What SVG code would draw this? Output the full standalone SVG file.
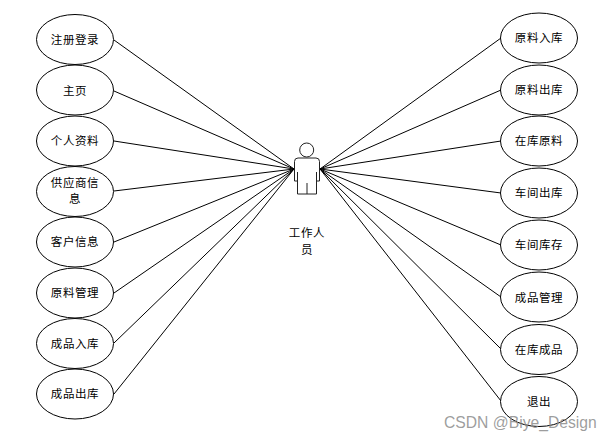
<svg xmlns="http://www.w3.org/2000/svg" width="612" height="442" viewBox="0 0 612 442">
<style>
.n{fill:#fff;stroke:#000;stroke-width:1}
.t{font-family:"Noto Sans CJK SC","Liberation Sans",sans-serif;font-size:11.5px;fill:#000;text-anchor:middle;letter-spacing:.6px}
.c line{stroke:#000;stroke-width:1}
.a{fill:#fff;stroke:#222;stroke-width:1}
</style>
<rect width="612" height="442" fill="#fff"/>
<g id="connectors" class="c">
<line x1="114" y1="40" x2="294" y2="169"/>
<line x1="114" y1="91" x2="294" y2="169"/>
<line x1="114" y1="141" x2="294" y2="169"/>
<line x1="114" y1="191" x2="294" y2="169"/>
<line x1="114" y1="242" x2="294" y2="169"/>
<line x1="114" y1="293" x2="294" y2="169"/>
<line x1="114" y1="343" x2="294" y2="169"/>
<line x1="114" y1="394" x2="294" y2="169"/>
<line x1="501" y1="38" x2="320" y2="169"/>
<line x1="501" y1="90" x2="320" y2="169"/>
<line x1="501" y1="141" x2="320" y2="169"/>
<line x1="501" y1="193" x2="320" y2="169"/>
<line x1="501" y1="245" x2="320" y2="169"/>
<line x1="501" y1="297" x2="320" y2="169"/>
<line x1="501" y1="349" x2="320" y2="169"/>
<line x1="501" y1="401" x2="320" y2="169"/>
</g>
<g id="actor">
<circle class="a" cx="306.700" cy="150" r="7"/>
<path class="a" d="M298 158H316Q319.500 158 319.500 161.500V181H316.500V194H297.500V181H294.500V161.500Q294.500 158 298 158Z"/>
<path d="M297.500 172V181M316.500 172V181M307 183V194" fill="none" stroke="#222" stroke-width="1"/>
<text class="t" x="307" y="237">工作人</text>
<text class="t" x="307" y="254">员</text>
</g>
<g id="n1"><ellipse class="n" cx="75" cy="39.500" rx="38.500" ry="25"/><text class="t" x="75" y="44">注册登录</text></g>
<g id="n2"><ellipse class="n" cx="75" cy="90" rx="38.500" ry="25"/><text class="t" x="75" y="95">主页</text></g>
<g id="n3"><ellipse class="n" cx="75" cy="141" rx="38.500" ry="25"/><text class="t" x="75" y="145">个人资料</text></g>
<g id="n4"><ellipse class="n" cx="75" cy="191.500" rx="38.500" ry="25"/><text class="t" x="75" y="187">供应商信</text><text class="t" x="75" y="203">息</text></g>
<g id="n5"><ellipse class="n" cx="75" cy="242" rx="38.500" ry="25"/><text class="t" x="75" y="246">客户信息</text></g>
<g id="n6"><ellipse class="n" cx="75" cy="293" rx="38.500" ry="25"/><text class="t" x="75" y="297">原料管理</text></g>
<g id="n7"><ellipse class="n" cx="75" cy="343.500" rx="38.500" ry="25"/><text class="t" x="75" y="348">成品入库</text></g>
<g id="n8"><ellipse class="n" cx="75" cy="394" rx="38.500" ry="25"/><text class="t" x="75" y="398">成品出库</text></g>
<g id="n9"><ellipse class="n" cx="539" cy="38" rx="38.500" ry="25"/><text class="t" x="539" y="42">原料入库</text></g>
<g id="n10"><ellipse class="n" cx="539" cy="90" rx="38.500" ry="25"/><text class="t" x="539" y="94">原料出库</text></g>
<g id="n11"><ellipse class="n" cx="539" cy="141" rx="38.500" ry="25"/><text class="t" x="539" y="145">在库原料</text></g>
<g id="n12"><ellipse class="n" cx="539" cy="193" rx="38.500" ry="25"/><text class="t" x="539" y="197">车间出库</text></g>
<g id="n13"><ellipse class="n" cx="539" cy="245" rx="38.500" ry="25"/><text class="t" x="539" y="249">车间库存</text></g>
<g id="n14"><ellipse class="n" cx="539" cy="297" rx="38.500" ry="25"/><text class="t" x="539" y="302">成品管理</text></g>
<g id="n15"><ellipse class="n" cx="539" cy="349.500" rx="38.500" ry="25"/><text class="t" x="539" y="354">在库成品</text></g>
<g id="n16"><ellipse class="n" cx="539" cy="401.500" rx="38.500" ry="25"/><text class="t" x="539" y="406">退出</text></g>
<text x="444" y="428" font-family="Liberation Sans,sans-serif" font-size="15.700" fill="#8c8c8c" fill-opacity=".85">CSDN @Biye_Design</text>
</svg>
